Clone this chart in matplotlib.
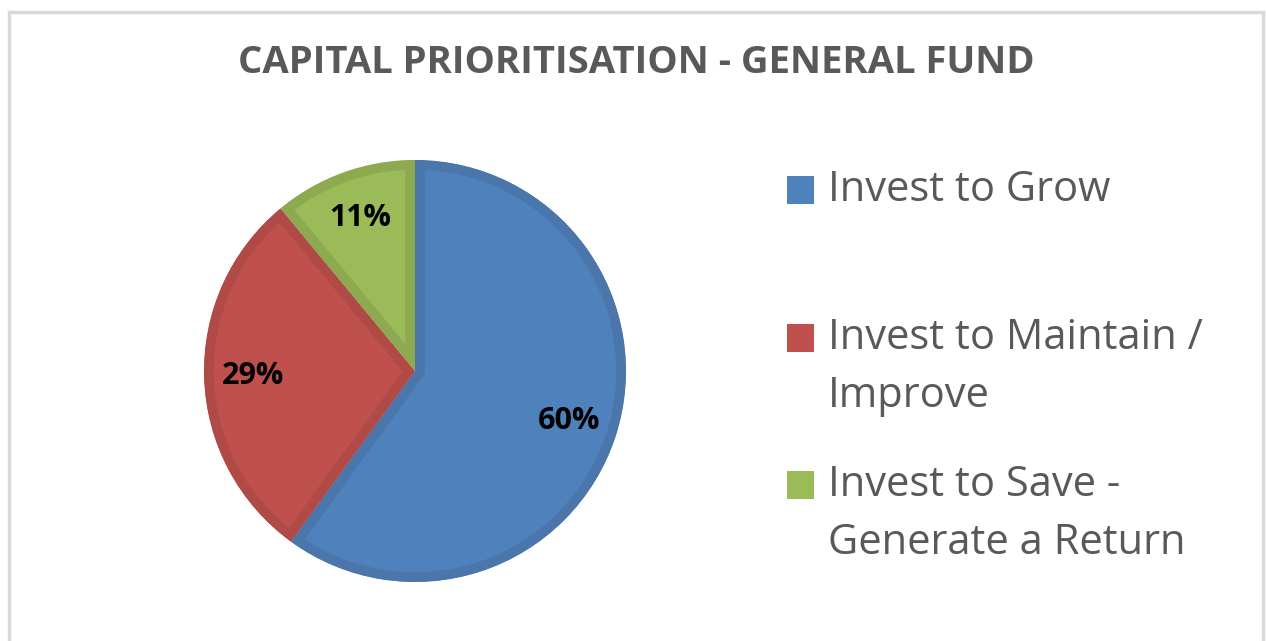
import matplotlib
matplotlib.use("Agg")
import matplotlib.pyplot as plt
from matplotlib.patches import Rectangle

# data
categories = ["Invest to Grow", "Invest to Maintain /\nImprove", "Invest to Save -\nGenerate a Return"]
shares = [60, 29, 11]
fill_colors = ["#4F81BD", "#C0504D", "#9BBB59"]
edge_colors = ["#4A76AC", "#B04A47", "#8DAA51"]
title = "CAPITAL PRIORITISATION - GENERAL FUND"

plt.rcParams['font.family'] = ['Open Sans', 'DejaVu Sans']

W, H = 1266, 641
fig = plt.figure(figsize=(W / 100, H / 100), dpi=100)
fig.patch.set_facecolor("white")

# outer chart frame (open at the bottom, as in the screenshot)
frame = Rectangle((9 / W, -0.05), (1263 - 9) / W, 1.05 - 12 / H, transform=fig.transFigure,
                  fill=False, edgecolor="#D9D9D9", linewidth=2.5)
fig.patches.append(frame)

fig.text(636 / W, 1 - 63 / H, title, ha="center", va="center", fontsize=27.5,
         fontweight="bold", color="#595959")

# pie
cx, cy, r = 415, 371, 211
ax = fig.add_axes([(cx - r) / W, (H - cy - r) / H, 2 * r / W, 2 * r / H])
wedges, _, autotexts = ax.pie(shares, colors=fill_colors, startangle=90, counterclock=False,
                              autopct="%1.0f%%", pctdistance=0.77, radius=1,
                              wedgeprops=dict(linewidth=14, joinstyle="miter"),
                              textprops=dict(fontsize=22, fontweight="bold", color="black"))
# thick border kept inside each slice, like the Excel original
for w, ec in zip(wedges, edge_colors):
    w.set_edgecolor(ec)
    w.set_clip_on(True)
    w.set_clip_path(w)
ax.set_xlim(-1, 1)
ax.set_ylim(-1, 1)
ax.set_aspect("equal")
ax.axis("off")

# legend drawn by hand to get Excel-like spacing
entry_y = [190, 338, 485]
line_gap = 58
for label, col, y in zip(categories, fill_colors, entry_y):
    fig.patches.append(Rectangle((787 / W, 1 - (y + 14) / H), 27 / W, 28 / H,
                                 transform=fig.transFigure, facecolor=col, edgecolor="none"))
    for i, line in enumerate(label.split("\n")):
        fig.text(828 / W, 1 - (y + i * line_gap) / H, line, ha="left", va="center",
                 fontsize=30, color="#595959")

fig.savefig("out.png", dpi=100)
